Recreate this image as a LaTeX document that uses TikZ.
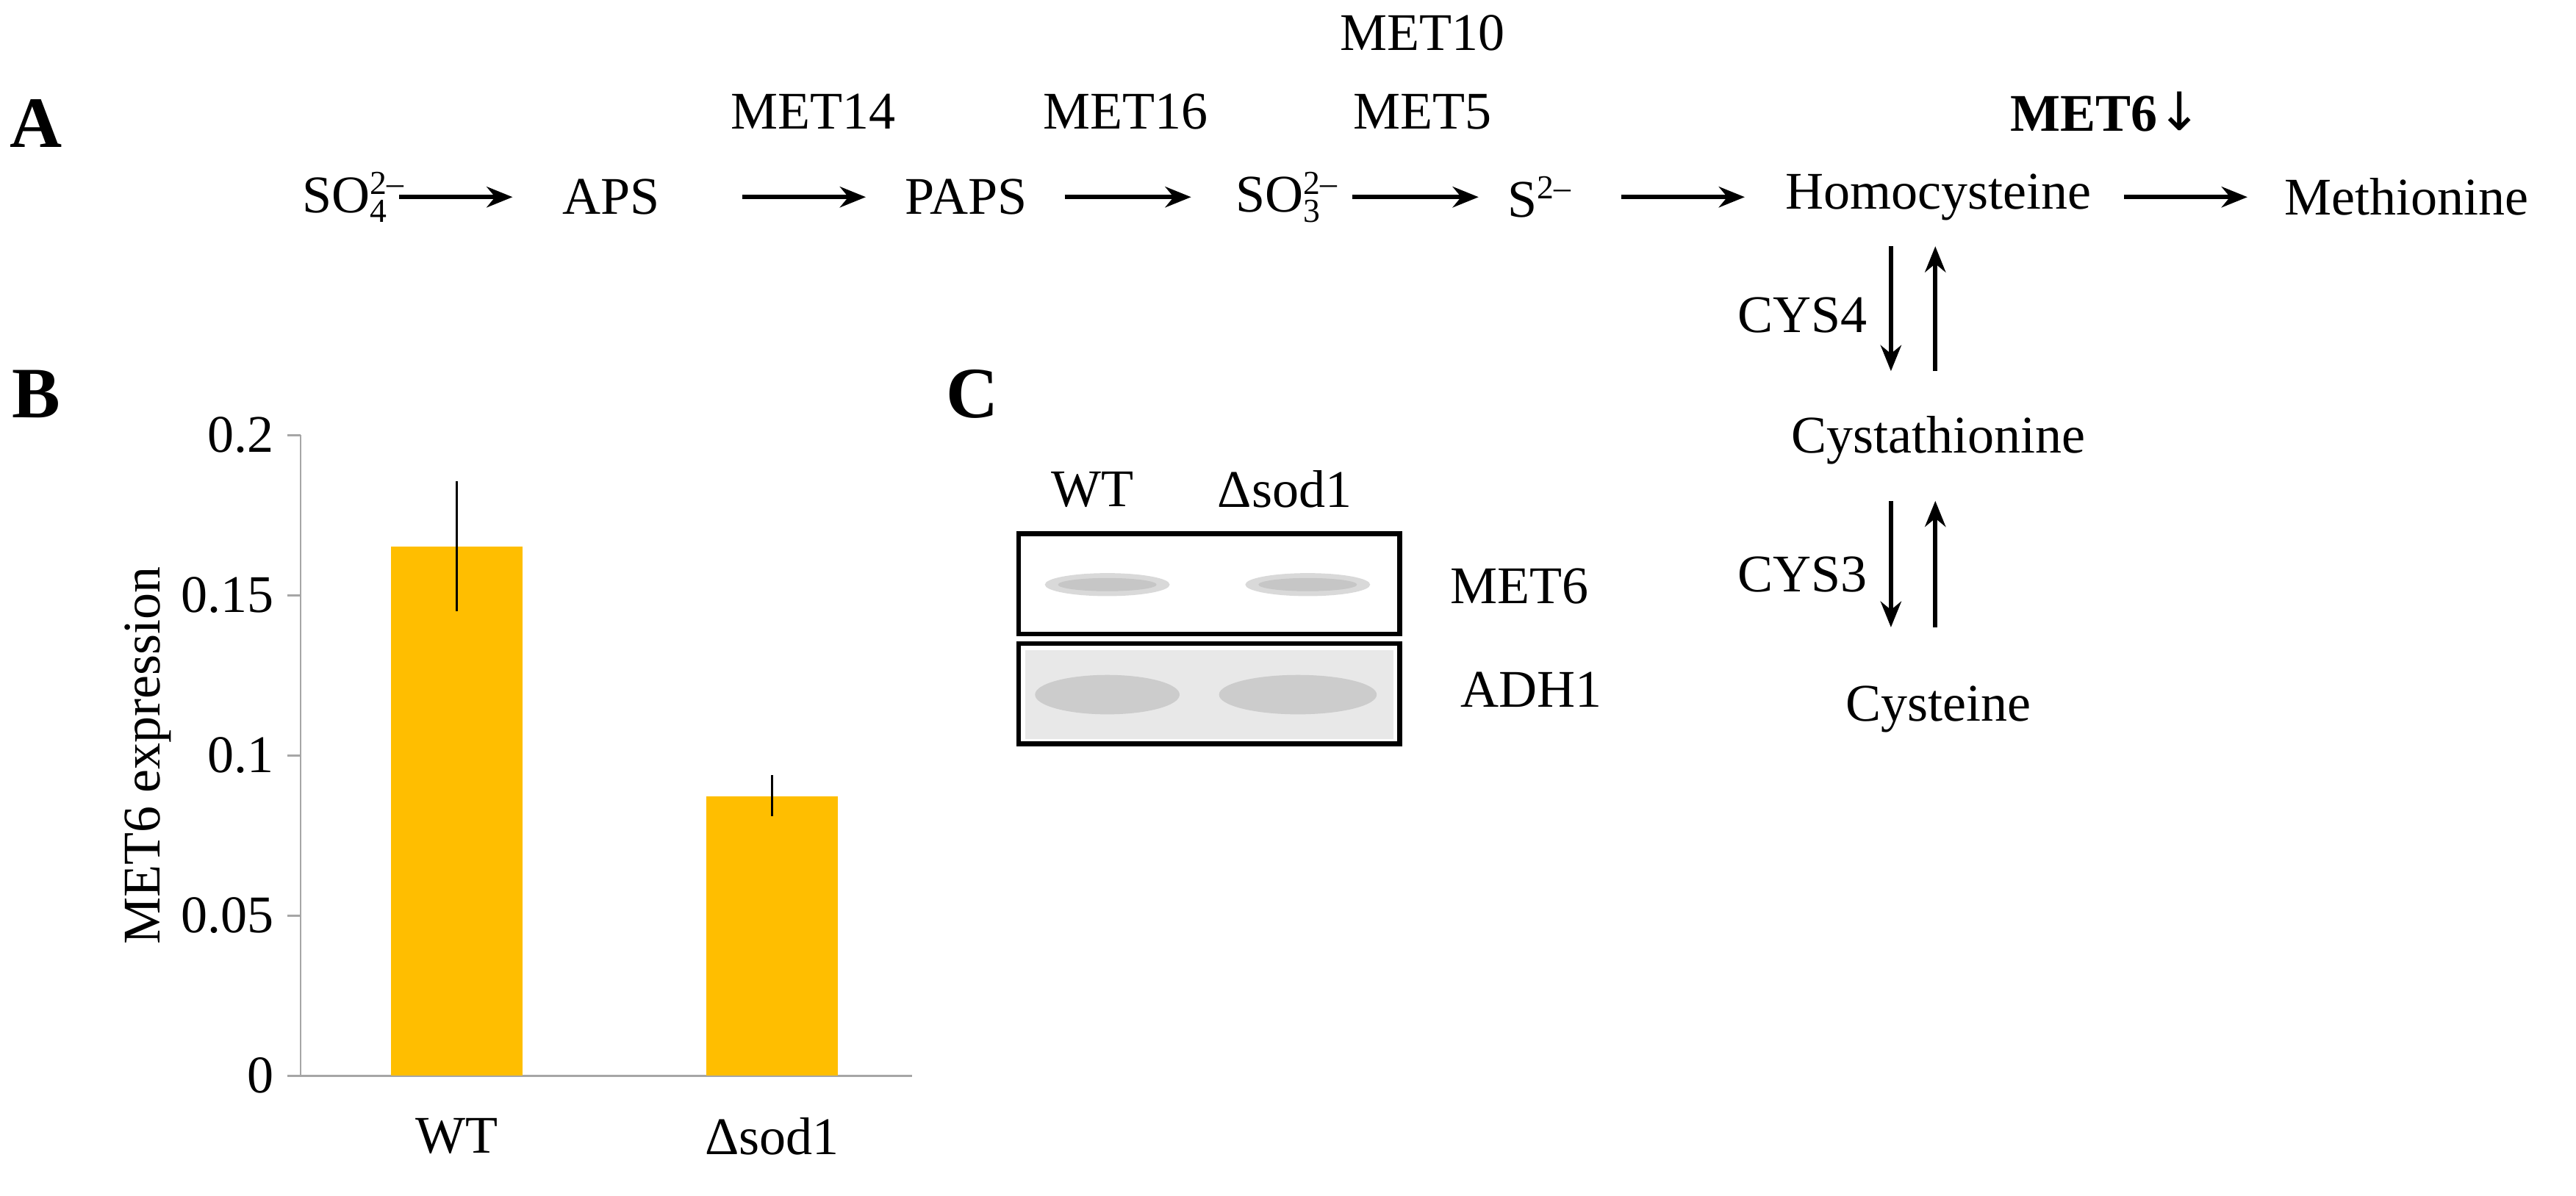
\documentclass[tikz,border=0pt]{standalone}
\usepackage{fontspec}
\usetikzlibrary{arrows.meta}
\setmainfont{Liberation Serif}
\newcommand\subsup[2]{\makebox[0pt][l]{\raisebox{-0.4ex}{\fontsize{13}{13}\selectfont #1}}\raisebox{0.75ex}{\fontsize{13}{13}\selectfont #2}}
\begin{document}
\begin{tikzpicture}[x=0.022353cm,y=-0.022353cm,
  txt/.style={inner sep=0pt,font=\fontsize{20.5}{22}\selectfont},
  lab/.style={inner sep=0pt,font=\fontsize{28}{28}\selectfont\bfseries},
  arr/.style={-{Stealth[length=10pt,width=8pt]},line width=1.8pt},
  ax/.style={draw=gray!70,line width=0.8pt},
  bar/.style={draw=none}]
\useasboundingbox (0,0) rectangle (1568,728.3);
% panel labels
\node[lab] (LA) at (22,75) {A};
\node[lab] (LB) at (22,240) {B};
\node[lab] (LC) at (592,240) {C};
% pathway row
\node[txt] (so4) at (215,120) {SO\subsup{4}{2–}};
\node[txt] (aps) at (372,120) {APS};
\node[txt] (paps) at (588,120) {PAPS};
\node[txt] (so3) at (783,120) {SO\subsup{3}{2–}};
\node[txt] (s2) at (937,120) {S\raisebox{0.75ex}{\fontsize{13}{13}\selectfont 2–}};
\node[txt] (hcy) at (1180,120) {Homocysteine};
\node[txt] (met) at (1465,120) {Methionine};
\node[txt] (e14) at (495,68) {MET14};
\node[txt] (e16) at (685,68) {MET16};
\node[txt] (e10) at (866,20) {MET10};
\node[txt] (e5) at (866,68) {MET5};
\node[txt,font=\fontsize{20.5}{22}\selectfont\bfseries] (e6) at (1282,68) {MET6\raisebox{0.05ex}{\fontspec{DejaVu Sans}\mdseries ↓}};
\coordinate (a1s) at (243,120); \coordinate (a1e) at (312,120);
\coordinate (a2s) at (452,120); \coordinate (a2e) at (527,120);
\coordinate (a3s) at (648,120); \coordinate (a3e) at (725,120);
\coordinate (a4s) at (823,120); \coordinate (a4e) at (900,120);
\coordinate (a5s) at (987,120); \coordinate (a5e) at (1062,120);
\coordinate (a6s) at (1293,120); \coordinate (a6e) at (1368,120);
\foreach \i in {1,...,6} \draw[arr] (a\i s) -- (a\i e);
% vertical
\node[txt] (cth) at (1180,268) {Cystathionine};
\node[txt] (cys) at (1180,432) {Cysteine};
\node[txt] (c4) at (1097,192) {CYS4};
\node[txt] (c3) at (1097,350) {CYS3};
\coordinate (d1s) at (1151,150); \coordinate (d1e) at (1151,226);
\coordinate (u1s) at (1178,226); \coordinate (u1e) at (1178,150);
\coordinate (d2s) at (1151,305); \coordinate (d2e) at (1151,382);
\coordinate (u2s) at (1178,382); \coordinate (u2e) at (1178,305);
\draw[arr] (d1s) -- (d1e); \draw[arr] (u1s) -- (u1e);
\draw[arr] (d2s) -- (d2e); \draw[arr] (u2s) -- (u2e);
% chart B
\draw[ax] (183,265) -- (183,655) -- (555,655);
\foreach \y/\t in {265/0.2,362.5/0.15,460/0.1,557.5/0.05,655/0} {
  \draw[ax] (175,\y) -- (183,\y);
  \node[txt,anchor=east] at (167,\y) {\t};
}
\fill[bar,fill={rgb,255:red,255;green,190;blue,0}] (238,333) rectangle (318,655);
\fill[bar,fill={rgb,255:red,255;green,190;blue,0}] (430,485) rectangle (510,655);
\draw[line width=1pt] (278,293) -- (278,372);
\draw[line width=1pt] (470,472) -- (470,497);
\node[txt] (xwt) at (278,692) {WT};
\node[txt] (xsod) at (470,692) {Δsod1};
\node[txt,rotate=90] (ylab) at (90,460) {MET6 expression};
% blot C
\node[txt] (bwt) at (665,298) {WT};
\node[txt] (bsod) at (782,298) {Δsod1};
\fill[gray!18] (624,396) rectangle (848,450);
\fill[gray!40] (674,423) ellipse (44 and 12);
\fill[gray!40] (790,423) ellipse (48 and 12);
\fill[gray!30] (674,356) ellipse (38 and 7);
\fill[gray!30] (796,356) ellipse (38 and 7);
\fill[gray!45] (674,356) ellipse (30 and 4);
\fill[gray!45] (796,356) ellipse (30 and 4);
\draw[line width=1.8pt] (620,325) rectangle (852,386);
\draw[line width=1.8pt] (620,392) rectangle (852,453);
\node[txt] (m6) at (925,357) {MET6};
\node[txt] (adh) at (932,420) {ADH1};
\end{tikzpicture}
\end{document}
